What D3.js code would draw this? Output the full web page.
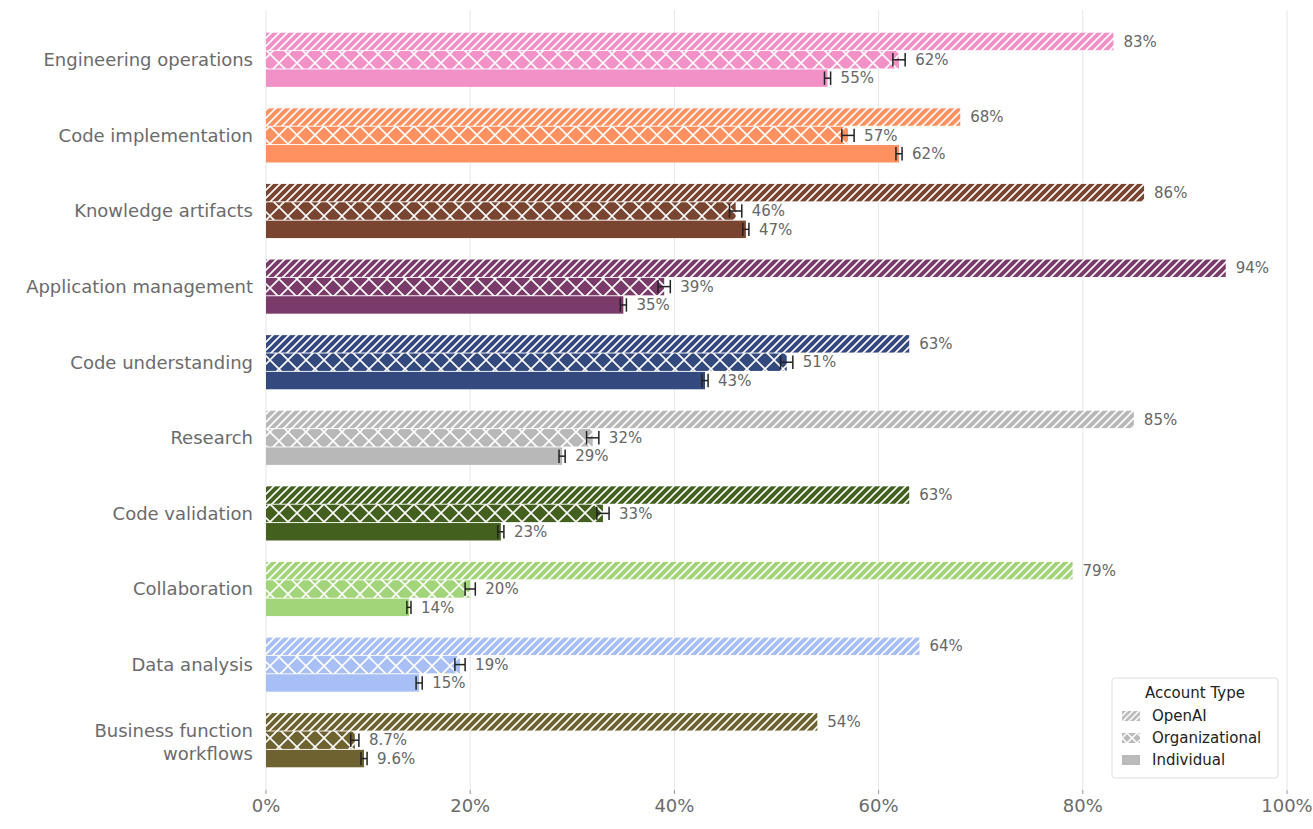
<!DOCTYPE html>
<html><head><meta charset="utf-8">
<script src="https://cdn.jsdelivr.net/npm/d3@7"></script>
<style>body{margin:0;background:#fff;font-family:"DejaVu Sans",sans-serif}</style>
</head><body><svg id="c" width="1313" height="829"></svg>
<script>
const categories=["Engineering operations","Code implementation","Knowledge artifacts","Application management","Code understanding","Research","Code validation","Collaboration","Data analysis","Business function workflows"];
const colors=["#f291c8","#ff9160","#7a4530","#7a3a6a","#344a7e","#b8b8b8","#44601f","#a2d47a","#a8bff5","#6e6230"];
const series=["OpenAI","Organizational","Individual"];
const openai=[83,68,86,94,63,85,63,79,64,54];
const org=[62,57,46,39,51,32,33,20,19,8.7];
const indiv=[55,62,47,35,43,29,23,14,15,9.6];
const orgErr=[0.6,0.6,0.6,0.6,0.6,0.6,0.6,0.5,0.5,0.4];
const indErr=[0.3,0.3,0.3,0.3,0.3,0.3,0.3,0.2,0.3,0.3];
const labels=[["83%","62%","55%"],["68%","57%","62%"],["86%","46%","47%"],["94%","39%","35%"],["63%","51%","43%"],["85%","32%","29%"],["63%","33%","23%"],["79%","20%","14%"],["64%","19%","15%"],["54%","8.7%","9.6%"]];
const xTicks=[0,20,40,60,80,100];

const svg=d3.select("#c");
const x=d3.scaleLinear().domain([0,100]).range([266,1287]);
const y=d3.scaleBand().domain(categories).range([22,778]).paddingInner(0);
const inner=d3.scaleBand().domain(series).range([-28,28]).padding(0.05);
const defs=svg.append("defs");
colors.forEach((c,i)=>{
  let p=defs.append("pattern").attr("id","d"+i).attr("patternUnits","userSpaceOnUse").attr("width",8).attr("height",8);
  p.append("rect").attr("width",8).attr("height",8).attr("fill",c);
  p.append("path").attr("d","M-2,2 L2,-2 M0,8 L8,0 M6,10 L10,6").attr("stroke","#fff").attr("stroke-width",1.6);
  let q=defs.append("pattern").attr("id","x"+i).attr("patternUnits","userSpaceOnUse").attr("width",18).attr("height",18).attr("y",0);
  q.append("rect").attr("width",18).attr("height",18).attr("fill",c);
  q.append("path").attr("d","M0,0 L18,18 M0,18 L18,0").attr("stroke","#fff").attr("stroke-width",1.6);
});
// grid
svg.append("g").selectAll("line").data(xTicks).join("line")
 .attr("x1",d=>x(d)).attr("x2",d=>x(d)).attr("y1",10).attr("y2",790).attr("stroke","#e6e6e6");
const vals=[openai,org,indiv];
const errs=[null,orgErr,indErr];
categories.forEach((cat,i)=>{
  const cy=y(cat)+y.bandwidth()/2;
  series.forEach((s,k)=>{
    const v=vals[k][i];
    const by=cy+inner(s);const h=inner.bandwidth();
    svg.append("rect").attr("x",x(0)).attr("y",by).attr("width",x(v)-x(0)).attr("height",h)
      .attr("fill",k==0?`url(#d${i})`:k==1?`url(#x${i})`:colors[i]);
    let lx=x(v);
    if(errs[k]){const e=errs[k][i];const g=svg.append("g").attr("stroke","#222").attr("stroke-width",1.5);
      g.append("line").attr("x1",x(v-e)).attr("x2",x(v+e)).attr("y1",by+h/2).attr("y2",by+h/2);
      [v-e,v+e].forEach(t=>g.append("line").attr("x1",x(t)).attr("x2",x(t)).attr("y1",by+2).attr("y2",by+h-2));
      lx=x(v+e);}
    svg.append("text").attr("x",lx+10).attr("y",by+h/2).attr("dy","0.35em").attr("font-size",15).attr("fill","#666").text(labels[i][k]);
  });
});
// y labels
categories.forEach(cat=>{
  const cy=y(cat)+y.bandwidth()/2;
  const t=svg.append("text").attr("x",253).attr("text-anchor","end").attr("font-size",18).attr("fill","#6b6b6b");
  if(cat==="Business function workflows"){
    t.append("tspan").attr("x",253).attr("y",cy-3).text("Business function");
    t.append("tspan").attr("x",253).attr("y",cy+20).text("workflows");
  } else t.attr("y",cy).attr("dy","0.35em").text(cat);
});
// x axis
svg.append("g").selectAll("text").data(xTicks).join("text").attr("x",d=>x(d)).attr("y",812).attr("text-anchor","middle")
 .attr("font-size",18).attr("fill","#6b6b6b").text(d=>d+"%");
svg.append("g").selectAll("line").data(xTicks).join("line").attr("x1",d=>x(d)).attr("x2",d=>x(d)).attr("y1",790).attr("y2",794).attr("stroke","#999");
// legend
const lg=svg.append("g").attr("transform","translate(1112,678)");
lg.append("rect").attr("width",166).attr("height",100).attr("rx",3).attr("fill","#fff").attr("stroke","#ddd");
lg.append("text").attr("x",83).attr("y",20).attr("text-anchor","middle").attr("font-size",15).attr("fill","#222").text("Account Type");
let gp=defs.append("pattern").attr("id","gd").attr("patternUnits","userSpaceOnUse").attr("width",6).attr("height",6);
gp.append("rect").attr("width",6).attr("height",6).attr("fill","#bbb");
gp.append("path").attr("d","M-1,1 L1,-1 M0,6 L6,0 M5,7 L7,5").attr("stroke","#fff").attr("stroke-width",1.5);
let gx=defs.append("pattern").attr("id","gx").attr("patternUnits","userSpaceOnUse").attr("width",10).attr("height",10);
gx.append("rect").attr("width",10).attr("height",10).attr("fill","#bbb");
gx.append("path").attr("d","M0,0 L10,10 M0,10 L10,0").attr("stroke","#fff").attr("stroke-width",1.5);
["url(#gd)","url(#gx)","#bbb"].forEach((f,k)=>{
  lg.append("rect").attr("x",10).attr("y",33+k*22).attr("width",18).attr("height",10).attr("fill",f);
  lg.append("text").attr("x",40).attr("y",38+k*22).attr("dy","0.35em").attr("font-size",15).attr("fill","#222").text(series[k]);
});
</script></body></html>
